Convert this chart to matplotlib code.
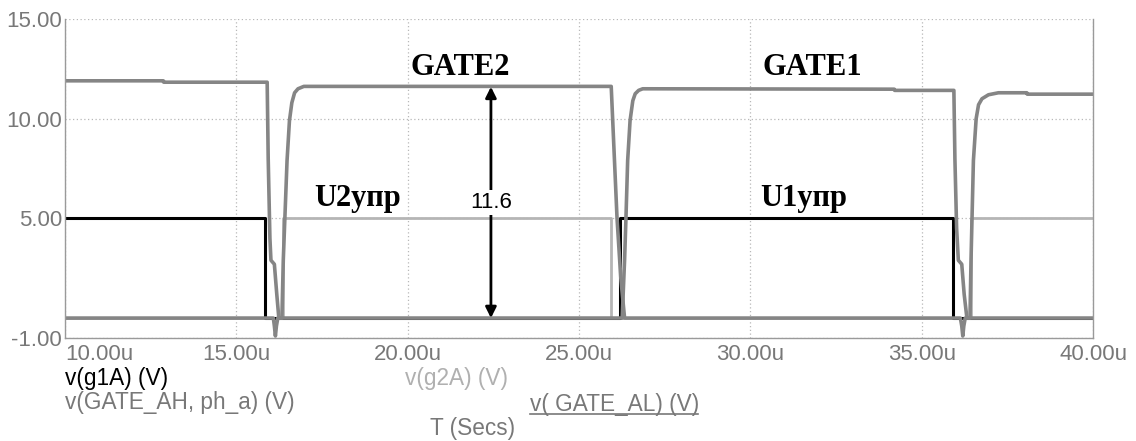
import matplotlib
matplotlib.use('Agg')
import matplotlib.pyplot as plt

# Время в мкс, напряжения в В
t_g1a = [10, 15.85, 15.85, 26.2, 26.2, 35.91, 35.91, 40]
v_g1a = [5, 5, 0, 0, 5, 5, 0, 0]

t_g2a = [10, 16.37, 16.37, 25.92, 25.92, 36.44, 36.44, 40]
v_g2a = [0, 0, 5, 5, 0, 0, 5, 5]

# v(GATE_AH, ph_a) - затвор верхнего ключа
t_gate_ah = [10, 12.87, 12.88, 15.90, 15.93, 15.98, 16.01, 16.06, 16.11, 16.18, 16.24,
             26.26, 26.33, 26.37, 26.42, 26.49, 26.57, 26.64, 26.74, 26.86, 34.2, 34.21,
             35.94, 35.97, 36.02, 36.07, 36.12, 36.17, 36.24, 36.32, 40]
v_gate_ah = [11.9, 11.9, 11.83, 11.83, 8.0, 4.0, 2.9, 2.8, 2.7, 1.2, 0.0,
             0.0, 2.9, 5.0, 7.9, 9.9, 10.9, 11.25, 11.42, 11.5, 11.48, 11.42,
             11.42, 8.0, 4.5, 2.9, 2.8, 2.7, 1.2, 0.0, 0.0]

# v(GATE_AL) - затвор нижнего ключа
t_gate_al = [10, 16.08, 16.11, 16.14, 16.17, 16.21, 16.33, 16.37, 16.48, 16.55, 16.62,
             16.70, 16.80, 16.97, 25.94, 26.02, 26.11, 26.22, 26.33,
             36.13, 36.17, 36.20, 36.23, 36.27, 36.41, 36.44, 36.51, 36.59, 36.66,
             36.76, 36.95, 37.24, 38.07, 38.08, 40]
v_gate_al = [0, 0, -0.4, -0.9, -0.4, 0, 0, 2.9, 7.9, 9.9, 10.8,
             11.3, 11.5, 11.62, 11.62, 8.5, 5.0, 2.0, 0.0,
             0, -0.4, -0.9, -0.4, 0, 0, 2.9, 7.9, 10.0, 10.7,
             11.0, 11.2, 11.3, 11.3, 11.23, 11.23]

x_ticks = [10, 15, 20, 25, 30, 35, 40]
x_tick_labels = ['10.00u', '15.00u', '20.00u', '25.00u', '30.00u', '35.00u', '40.00u']
y_ticks = [-1, 5, 10, 15]
y_tick_labels = ['-1.00', '5.00', '10.00', '15.00']

gate_amplitude = 11.6
t_measure = 22.43

sans = 'Liberation Sans'
serif = 'Liberation Serif'
gray_text = '#787878'
gate_color = '#858585'

fig = plt.figure(figsize=(11.36, 4.41), dpi=100)
ax = fig.add_axes([65 / 1136, 1 - 338 / 441, (1093 - 65) / 1136, (338 - 19) / 441])

ax.plot(t_g2a, v_g2a, color='#b5b5b5', lw=2.0)
ax.plot(t_g1a, v_g1a, color='black', lw=2.2)
ax.plot(t_gate_al, v_gate_al, color=gate_color, lw=2.6, solid_joinstyle='round')
ax.plot(t_gate_ah, v_gate_ah, color=gate_color, lw=2.6, solid_joinstyle='round')

ax.set_xlim(10, 40)
ax.set_ylim(-1, 15)
ax.set_xticks(x_ticks)
ax.set_xticklabels(x_tick_labels)
ax.set_yticks(y_ticks)
ax.set_yticklabels(y_tick_labels)
ax.tick_params(length=0, labelsize=16, labelcolor=gray_text)
ax.tick_params(axis='x', pad=4)
ax.tick_params(axis='y', pad=2)
for lbl in ax.get_xticklabels() + ax.get_yticklabels():
    lbl.set_family(sans)
ax.get_xticklabels()[0].set_horizontalalignment('left')

ax.grid(True, linestyle=(0, (1, 2)), color='#b8b8b8', lw=0.9)
ax.set_axisbelow(True)
for side in ['left', 'bottom', 'right']:
    ax.spines[side].set_color('#9a9a9a')
    ax.spines[side].set_linewidth(1.0)
ax.spines['top'].set_visible(False)

# Подписи сигналов
label_font = dict(family=serif, weight='bold', fontsize=22, color='black',
                  ha='center', va='baseline')
ax.text(21.52, 12.2, 'GATE2', **label_font)
ax.text(31.81, 12.2, 'GATE1', **label_font)
ax.text(18.55, 5.6, 'U2упр', **label_font)
ax.text(31.56, 5.6, 'U1упр', **label_font)

# Размерная стрелка амплитуды затвора
ax.annotate('', xy=(t_measure, gate_amplitude), xytext=(t_measure, 0),
            arrowprops=dict(arrowstyle='<|-|>', color='black', lw=2,
                            mutation_scale=16, shrinkA=0, shrinkB=0))
ax.text(t_measure, gate_amplitude / 2, f'{gate_amplitude:.1f}', family=sans,
        fontsize=16, ha='center', va='center', color='black',
        bbox=dict(facecolor='white', edgecolor='none', pad=1.5))

# Легенда под осью
def fig_text(x_px, y_px, s, color):
    return fig.text(x_px / 1136, 1 - y_px / 441, s, family=sans, fontsize=16.3,
                    color=color, ha='left', va='center')

fig_text(65, 378, 'v(g1A) (V)', 'black')
fig_text(65, 403, 'v(GATE_AH, ph_a) (V)', gray_text)
fig_text(405, 378, 'v(g2A) (V)', '#b0b0b0')
fig_text(530, 404, 'v( GATE_AL) (V)', gray_text)
fig.add_artist(plt.Line2D([530 / 1136, 698 / 1136], [1 - 414 / 441, 1 - 414 / 441],
                          color=gray_text, lw=1.2))
fig_text(430, 428, 'T (Secs)', gray_text)

fig.savefig('out.png', dpi=100)
